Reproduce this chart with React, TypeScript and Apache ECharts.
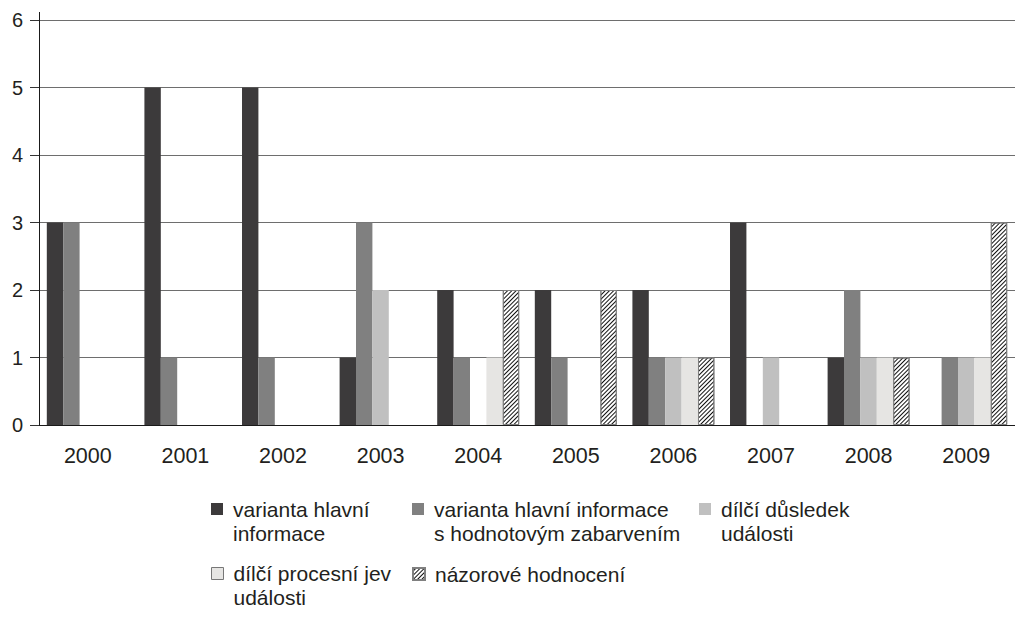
import React, { useEffect, useRef } from "react";
import * as echarts from "echarts";

const categories = ["2000", "2001", "2002", "2003", "2004", "2005", "2006", "2007", "2008", "2009"];
const seriesNames = [
  "varianta hlavní\ninformace",
  "varianta hlavní informace\ns hodnotovým zabarvením",
  "dílčí důsledek\nudálosti",
  "dílčí procesní jev\nudálosti",
  "názorové hodnocení",
];
const mainInfo = [3, 5, 5, 1, 2, 2, 2, 3, 1, 0];
const valueInfo = [3, 1, 1, 3, 1, 1, 1, 0, 2, 1];
const partialConsequence = [0, 0, 0, 2, 0, 0, 1, 1, 1, 1];
const partialProcess = [0, 0, 0, 0, 1, 0, 1, 0, 1, 1];
const opinion = [0, 0, 0, 0, 2, 2, 1, 0, 1, 3];
const yTicks = [0, 1, 2, 3, 4, 5, 6];

const FONT = "'Liberation Sans', Arial, Helvetica, sans-serif";
const TXT = "#231f20";

const nz = (arr: number[]) => arr.map((v) => (v === 0 ? null : v));

export default function App() {
  const ref = useRef<HTMLDivElement>(null);
  useEffect(() => {
    if (!ref.current) return;
    const chart = echarts.init(ref.current, undefined, { renderer: "svg" });
    const hatch = {
      symbol: "rect",
      symbolSize: 1,
      color: "#111",
      backgroundColor: "#fff",
      dashArrayX: [1, 0],
      dashArrayY: [1, 1.25],
      rotation: -Math.PI / 4,
    };
    const barBase = { type: "bar", barGap: "0%", barCategoryGap: "16%" };
    const twoLineIcon = "path://M0 0M17 48M0 6h12v12H0Z";
    const oneLineIcon = "path://M0 0M17 24M0 6h12v12H0Z";
    const textStyle = { fontSize: 21, lineHeight: 24, color: TXT, fontFamily: FONT };
    const twoLine = {
      orient: "horizontal",
      icon: twoLineIcon,
      itemWidth: 17,
      itemHeight: 48,
      padding: 0,
      selectedMode: false,
      textStyle,
    };
    const oneLine = { ...twoLine, icon: oneLineIcon, itemHeight: 24 };
    const option = {
      animation: false,
      textStyle: { fontFamily: FONT },
      grid: { left: 39, right: -5, top: 20, bottom: 207 },
      xAxis: {
        type: "category",
        data: categories,
        axisLine: { lineStyle: { color: "#1a1a1a", width: 1 } },
        axisTick: { length: 10, lineStyle: { color: "#333" } },
        axisLabel: { fontSize: 21.5, color: TXT, margin: 20, fontFamily: FONT },
      },
      yAxis: {
        type: "value",
        min: yTicks[0],
        max: yTicks[yTicks.length - 1],
        interval: 1,
        axisLine: { show: true, lineStyle: { color: "#1a1a1a" } },
        axisTick: { show: true, length: 9, lineStyle: { color: "#333" } },
        axisLabel: { fontSize: 20, color: TXT, margin: 16, fontFamily: FONT },
        splitLine: { lineStyle: { color: "#6e6e6e", width: 1 } },
      },
      legend: [
        { ...twoLine, left: 211, top: 497, data: [seriesNames[0]] },
        { ...twoLine, left: 412, top: 497, data: [seriesNames[1]] },
        { ...twoLine, left: 699, top: 497, data: [seriesNames[2]] },
        {
          ...twoLine,
          left: 211,
          top: 561,
          data: [{ name: seriesNames[3], itemStyle: { borderColor: "#777", borderWidth: 1 } }],
        },
        { ...oneLine, left: 412, top: 561, data: [seriesNames[4]] },
      ],
      graphic: [
        { type: "line", shape: { x1: 39.5, y1: 12, x2: 39.5, y2: 20 }, style: { stroke: "#1a1a1a", lineWidth: 1 } },
      ],
      series: [
        { ...barBase, name: seriesNames[0], data: nz(mainInfo), itemStyle: { color: "#3c3a3b" } },
        { ...barBase, name: seriesNames[1], data: nz(valueInfo), itemStyle: { color: "#808080" } },
        { ...barBase, name: seriesNames[2], data: nz(partialConsequence), itemStyle: { color: "#c0c0c0" } },
        { ...barBase, name: seriesNames[3], data: nz(partialProcess), itemStyle: { color: "#e6e5e3" } },
        {
          ...barBase,
          name: seriesNames[4],
          data: nz(opinion),
          itemStyle: { color: "#ffffff", borderColor: "#808080", borderWidth: 1, decal: hatch },
        },
      ],
    };
    chart.setOption(option as any);
    return () => chart.dispose();
  }, []);
  return (
    <div
      ref={ref}
      style={{ position: "absolute", left: 0, top: 0, width: 1015, height: 632, background: "#fff" }}
    />
  );
}
